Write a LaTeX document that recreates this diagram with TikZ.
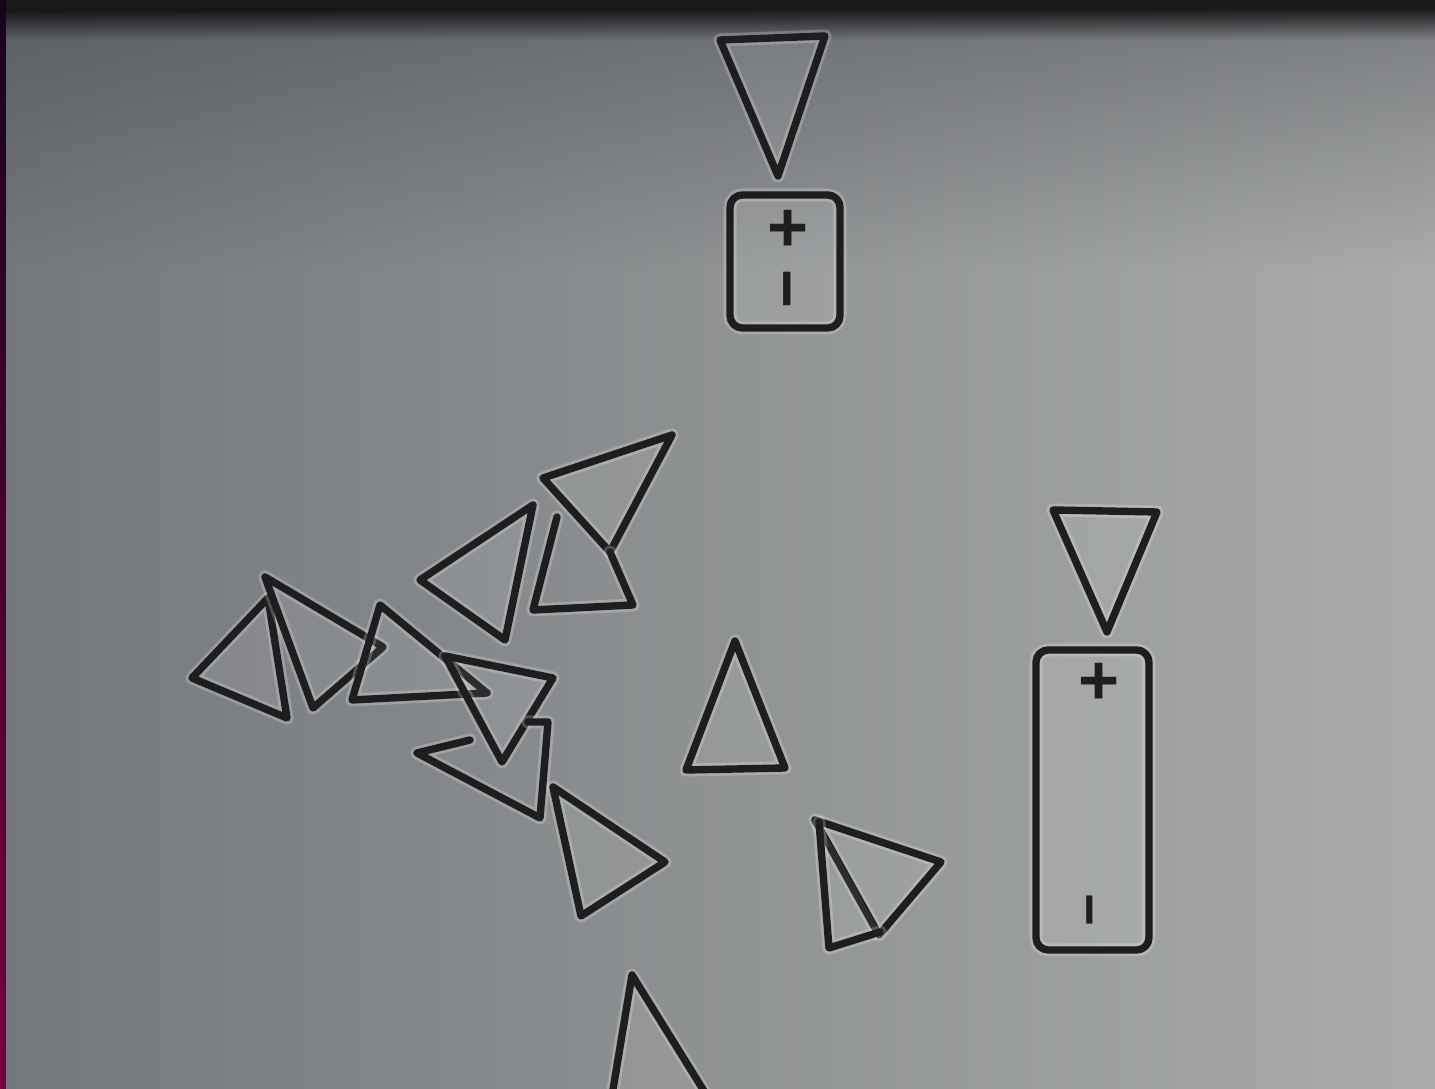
\documentclass[tikz,border=0pt]{standalone}
\usepackage{fontspec}
\newfontfamily\signfont{Liberation Sans}
\usetikzlibrary{fadings}

% Paper, ink and edge colours
\definecolor{paperL}{RGB}{116,119,123}
\definecolor{paperR}{RGB}{170,172,171}
\definecolor{shadow}{RGB}{60,63,72}
\definecolor{ink}{RGB}{30,30,32}
\definecolor{rimTop}{RGB}{22,4,26}
\definecolor{rimBot}{RGB}{118,0,66}

\tikzfading[name=fade top, top color=transparent!0, bottom color=transparent!100]

\begin{document}
\begin{tikzpicture}[x=0.01cm, y=-0.01cm, line join=round, line cap=round,
    piece/.style={draw=ink, line width=2.1pt, fill=white, fill opacity=0.07,
      preaction={draw=white, draw opacity=0.22, line width=3.7pt}},
    cell/.style={piece, rounded corners=3.5pt, fill opacity=0.1},
    sign/.style={inner sep=0pt, text=ink, font=\signfont\bfseries\fontsize{20}{20}\selectfont}]
  % Fix the frame to the photo size
  \useasboundingbox (0,0) rectangle (1435,1089);

  % Background paper: light to the right, dark band at the top
  \shade[left color=paperL, right color=paperR] (0,0) rectangle (1435,1089);
  \fill[shadow, fill opacity=0.45, path fading=fade top] (0,0) rectangle (1435,270);
  \fill[black, path fading=fade top] (0,0) rectangle (1435,40);
  \fill[black!90] (0,0) rectangle (1435,9);
  \shade[top color=rimTop, bottom color=rimBot] (0,0) rectangle (6,1089);

  % Upper cell with its marker
  \draw[piece] (720,40) -- (825,36) -- (778,176) -- cycle;
  \draw[cell] (730,195) rectangle (840,328);
  \node[sign] (plusA) at (788,231) {+};
  \node[sign, rotate=90, font=\signfont\bfseries\fontsize{19}{19}\selectfont] (minusA) at (797,289) {−};

  % Right cell with its marker
  \draw[piece] (1053,510) -- (1157,512) -- (1107,632) -- cycle;
  \draw[cell] (1036,650) rectangle (1149,950);
  \node[sign] (plusB) at (1099,684) {+};
  \node[sign, rotate=90, font=\signfont\bfseries\fontsize{16}{16}\selectfont] (minusB) at (1098,910) {−};

  % Loose cluster on the left
  \draw[piece] (543,478) -- (672,435) -- (610,552) -- cycle;
  \draw[piece, fill=none] (557,517) -- (533,610) -- (633,605) -- (610,552);
  \draw[piece] (420,580) -- (533,505) -- (505,640) -- cycle;
  \draw[piece] (192,678) -- (268,598) -- (287,718) -- cycle;
  \draw[piece] (265,577) -- (383,647) -- (313,708) -- cycle;
  \draw[piece] (380,605) -- (487,693) -- (352,700) -- cycle;
  \draw[piece] (445,656) -- (553,678) -- (502,762) -- cycle;
  \draw[piece, fill=none] (470,740) -- (417,753) -- (540,818) -- (548,722) -- (528,722);
  \draw[piece] (553,787) -- (665,862) -- (581,916) -- cycle;

  % Single pieces in the middle
  \draw[piece] (735,641) -- (686,770) -- (785,768) -- cycle;
  \draw[piece] (815,820) -- (941,862) -- (879,935) -- cycle;
  \draw[piece] (819,822) -- (829,948) -- (880,932);

  % Piece cut by the lower edge
  \begin{scope}
    \clip (0,0) rectangle (1435,1089);
    \draw[piece] (632,975) -- (722,1120) -- (608,1120) -- cycle;
  \end{scope}
\end{tikzpicture}
\end{document}
